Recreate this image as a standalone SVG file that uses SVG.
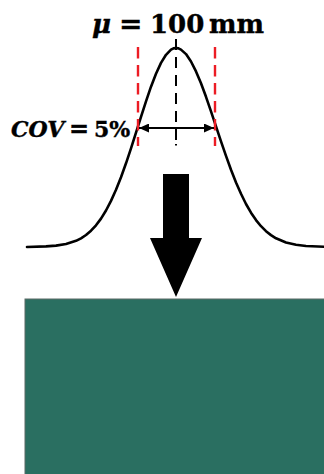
<svg xmlns="http://www.w3.org/2000/svg" width="324" height="474" viewBox="0 0 324 474">
<style>
.lbl{font-family:"DejaVu Serif","Liberation Serif",serif;font-weight:bold;fill:#000;stroke:#000;stroke-width:0.4}
.it{font-style:italic}
.red{stroke:#ec1c24;stroke-width:2.4;stroke-dasharray:11.5 6.5;fill:none}
</style>
<defs>
<marker id="ah" viewBox="0 0 10 9" refX="10" refY="4.5" markerWidth="10" markerHeight="9" markerUnits="userSpaceOnUse" orient="auto-start-reverse">
<path d="M0,0 L10,4.5 L0,9 Z" fill="#000"/>
</marker>
</defs>
<rect width="324" height="474" fill="#fff"/>
<g id="block">
<rect x="25" y="299" width="300" height="176" fill="#2a6f61" stroke="#5b6b67" stroke-width="1"/>
</g>
<g id="curve">
<polyline fill="none" stroke="#000" stroke-width="2.6" stroke-linejoin="round" stroke-linecap="round" points="27,247 46,246.4 56,245.6 66,244 76,240.8 81,238.3 86,235 91,230.7 96,225.3 101,218.6 106,210.5 111,200.9 116,189.8 121,177.2 126,163.3 131,148.3 136,132.6 141,116.8 146,101.3 151,86.7 156,73.7 161,62.9 166,54.8 171,49.7 173.5,48.4 176,48 178.5,48.4 181,49.6 186,54.1 191,61.5 196,71.4 201,83.3 206,96.8 211,111.3 216,126.3 221,141.3 226,155.9 231,169.7 236,182.4 241,193.8 246,204 251,212.7 256,220.1 261,226.2 266,231.2 271,235.1 276,238.3 286,242.5 296,244.8 306,246 324,246.8"/>
</g>
<g id="guides">
<line class="red" x1="138" y1="47" x2="138" y2="146"/>
<line class="red" x1="215" y1="47" x2="215" y2="146"/>
<line x1="176" y1="39" x2="176" y2="145.5" stroke="#000" stroke-width="2" stroke-dasharray="11 7 11 7 11 7 11 7 11 7 11 4 1.5 20"/>
</g>
<g id="connectors">
<line x1="139" y1="128" x2="214" y2="128" stroke="#000" stroke-width="2.2" marker-start="url(#ah)" marker-end="url(#ah)"/>
</g>
<g id="arrow">
<polygon points="163,174 189,174 189,238 202,238 176,297 150,238 163,238" fill="#000"/>
</g>
<g id="title">
<text class="lbl" y="33" font-size="26"><tspan class="it" x="92" font-size="26">μ</tspan><tspan x="119" font-size="28">=</tspan><tspan x="150">100</tspan><tspan x="209">mm</tspan></text>
</g>
<g id="cov-label">
<text class="lbl" y="137" font-size="22"><tspan class="it" x="11">COV</tspan><tspan x="69" font-size="24">=</tspan><tspan x="94">5%</tspan></text>
</g>
</svg>
